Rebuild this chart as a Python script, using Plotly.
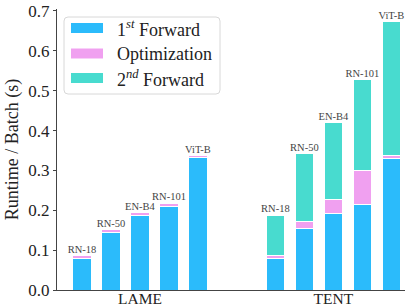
import plotly.graph_objects as go

models = ["RN-18", "RN-50", "EN-B4", "RN-101", "ViT-B"]
groups = ["LAME", "TENT"]

lame_fwd1 = [0.079, 0.145, 0.187, 0.209, 0.333]
lame_opt = [0.008, 0.006, 0.008, 0.009, 0.005]
lame_fwd2 = [0.0, 0.0, 0.0, 0.0, 0.0]

tent_fwd1 = [0.079, 0.155, 0.191, 0.215, 0.329]
tent_opt = [0.008, 0.016, 0.035, 0.084, 0.009]
tent_fwd2 = [0.101, 0.172, 0.193, 0.230, 0.335]

series_names = ["1<sup><i>st</i></sup> Forward", "Optimization", "2<sup><i>nd</i></sup> Forward"]
yticks = [0.0, 0.1, 0.2, 0.3, 0.4, 0.5, 0.6, 0.7]

gap = 6.67
xs = [i for i in range(5)] + [gap + i for i in range(5)]
fwd1 = lame_fwd1 + tent_fwd1
opt = lame_opt + tent_opt
fwd2 = lame_fwd2 + tent_fwd2
totals = [a + b + c for a, b, c in zip(fwd1, opt, fwd2)]
labels = models + models

C_BLUE = "#2BBBFB"
C_PINK = "#F0A0F0"
C_TEAL = "#48DBCF"
colors = [C_BLUE, C_PINK, C_TEAL]
FONT = "Liberation Serif"

W, H = 407, 306
L, R, T, B = 57, 2, 9, 16
PW, PH = W - L - R, H - T - B


def px(x):
    return (x - L) / PW


def py(y):
    return (H - B - y) / PH


fig = go.Figure()
common = dict(x=xs, width=0.63, marker_line=dict(color="white", width=1), showlegend=False)
for vals, nm, col in zip([fwd1, opt, fwd2], series_names, colors):
    fig.add_trace(go.Bar(y=vals, name=nm, marker_color=col, **common))

fig.add_trace(go.Scatter(
    x=xs, y=totals, mode="text", text=labels, textposition="top center",
    textfont=dict(family=FONT, size=10.5, color="#444"), showlegend=False,
    hoverinfo="skip", cliponaxis=False,
))

# manual legend (box with rounded corners, wide swatches)
x0, x1, y0, y1, r = 64, 220, 17, 94, 4
path = (f"M {px(x0 + r)},{py(y0)} L {px(x1 - r)},{py(y0)} Q {px(x1)},{py(y0)} {px(x1)},{py(y0 + r)} "
        f"L {px(x1)},{py(y1 - r)} Q {px(x1)},{py(y1)} {px(x1 - r)},{py(y1)} "
        f"L {px(x0 + r)},{py(y1)} Q {px(x0)},{py(y1)} {px(x0)},{py(y1 - r)} "
        f"L {px(x0)},{py(y0 + r)} Q {px(x0)},{py(y0)} {px(x0 + r)},{py(y0)} Z")
shapes = [dict(type="path", xref="paper", yref="paper", path=path,
               line=dict(color="#d8d8d8", width=1), fillcolor="rgba(255,255,255,0.85)", layer="above")]
annotations = []
for cy, nm, col in zip([28, 53.5, 78], series_names, colors):
    shapes.append(dict(type="rect", xref="paper", yref="paper",
                       x0=px(71), x1=px(103), y0=py(cy + 5), y1=py(cy - 5),
                       fillcolor=col, line=dict(width=0), layer="above"))
    annotations.append(dict(xref="paper", yref="paper", x=px(115), y=py(cy),
                            xanchor="left", yanchor="middle", text=nm, showarrow=False,
                            font=dict(family=FONT, size=18, color="#222")))

fig.update_layout(
    barmode="stack",
    width=W, height=H,
    margin=dict(l=L, r=R, t=T, b=B),
    paper_bgcolor="white", plot_bgcolor="white",
    font=dict(family=FONT, size=17, color="#222"),
    showlegend=False,
    shapes=shapes, annotations=annotations,
    xaxis=dict(
        range=[-0.862, 11.14], tickmode="array",
        tickvals=[2, gap + 2], ticktext=groups,
        showline=True, linecolor="#444", linewidth=1.2,
        ticks="", showgrid=False, zeroline=False, automargin=False,
        tickfont=dict(family=FONT, size=15.5), ticklabelstandoff=-6,
    ),
    yaxis=dict(
        range=[0, 0.705], tickmode="array", tickvals=yticks,
        ticktext=["%.1f" % v for v in yticks],
        showline=True, linecolor="#444", linewidth=1.2,
        ticks="outside", ticklen=3, tickcolor="#444",
        showgrid=False, zeroline=False, automargin=False,
        tickfont=dict(family=FONT, size=17),
        title=dict(text="Runtime / Batch (s)", font=dict(family=FONT, size=18), standoff=4),
    ),
)

fig.write_html("out.html", config={"displayModeBar": False},
               post_script="document.body.style.margin='0';")
